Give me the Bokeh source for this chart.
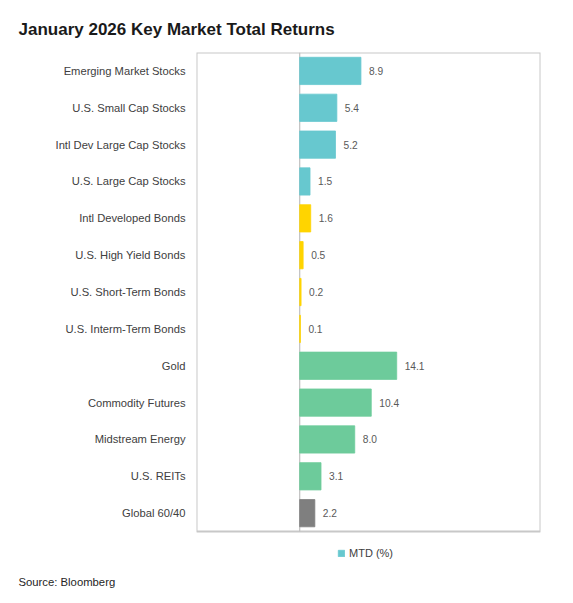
from bokeh.plotting import figure
from bokeh.models import (ColumnDataSource, LabelSet, Legend, LegendItem, Range1d,
                          Title, FixedTicker, Grid)
from bokeh.core.properties import value
from bokeh.embed import file_html
from bokeh.resources import INLINE

categories = ["Emerging Market Stocks", "U.S. Small Cap Stocks", "Intl Dev Large Cap Stocks",
              "U.S. Large Cap Stocks", "Intl Developed Bonds", "U.S. High Yield Bonds",
              "U.S. Short-Term Bonds", "U.S. Interm-Term Bonds", "Gold", "Commodity Futures",
              "Midstream Energy", "U.S. REITs", "Global 60/40"]
mtd = [8.9, 5.4, 5.2, 1.5, 1.6, 0.5, 0.2, 0.1, 14.1, 10.4, 8.0, 3.1, 2.2]
groups = ["equity"] * 4 + ["bond"] * 4 + ["real"] * 4 + ["blend"]
group_colors = {"equity": "#67C8CF", "bond": "#FFD400", "real": "#6DCB9B", "blend": "#7F7F7F"}
value_labels = ["%.1f" % v for v in mtd]

FONT = "Liberation Sans"
n = len(categories)
ypos = [n - 1 - i for i in range(n)]  # first category at top

src = ColumnDataSource(dict(y=ypos, cat=categories, val=mtd,
                            color=[group_colors[g] for g in groups], lab=value_labels))

p = figure(width=557, height=595, output_backend="svg", toolbar_location=None,
           y_range=Range1d(-1.42, n - 0.5), x_range=Range1d(-15, 35), x_axis_location=None,
           min_border_left=196, min_border_right=17, min_border_top=52, min_border_bottom=29)
p.outline_line_color = None
p.center = [r for r in p.center if not isinstance(r, Grid)]
p.yaxis.ticker = FixedTicker(ticks=ypos)
p.yaxis.major_label_overrides = {y: c for y, c in zip(ypos, categories)}
p.yaxis.axis_line_color = None
p.yaxis.major_tick_line_color = None
p.yaxis.minor_tick_line_color = None
p.yaxis.major_tick_out = 0
p.yaxis.major_label_standoff = 11
p.yaxis.major_label_text_font = FONT
p.yaxis.major_label_text_font_size = "11.2px"
p.yaxis.major_label_text_color = "#404040"
p.background_fill_color = "white"
p.border_fill_color = "white"

# plot box (frame of the data area)
p.quad(left=p.x_range.start, right=p.x_range.end, bottom=-0.5, top=n - 0.5,
       fill_color=None, line_color="#C8C8C8", line_width=2)
# zero line
p.segment(x0=[0], x1=[0], y0=[-0.5], y1=[n - 0.5], line_color="#BFBFBF", line_width=1.2)

bars = p.hbar(y="y", right="val", left=0, height=0.74, source=src,
              fill_color="color", line_color="color", line_width=0.8)

p.add_layout(LabelSet(x="val", y="y", text="lab", source=src, x_offset=8,
                      text_baseline="middle", text_font=value(FONT), text_font_size="10.2px",
                      text_color="#595959"))

p.title = Title(text="January 2026 Key Market Total Returns", align="left", offset=-178,
                text_font=FONT, text_font_size="17px", text_font_style="bold",
                text_color="#1a1a1a", standoff=27)

legend = Legend(items=[LegendItem(label="MTD (%)", renderers=[bars], index=0)],
                location=(141, 6), orientation="horizontal",
                glyph_width=8, glyph_height=8, label_height=12, label_width=20,
                label_standoff=4, padding=0, margin=0, spacing=0,
                border_line_color=None, background_fill_alpha=0,
                label_text_font=FONT, label_text_font_size="11px",
                label_text_color="#404040")
p.add_layout(legend)

p.add_layout(Title(text="Source: Bloomberg", align="left", offset=-178,
                   text_font=FONT, text_font_size="11.3px", text_font_style="normal",
                   text_color="#262626", standoff=16), "below")

open("out.html", "w").write(file_html(p, INLINE))
